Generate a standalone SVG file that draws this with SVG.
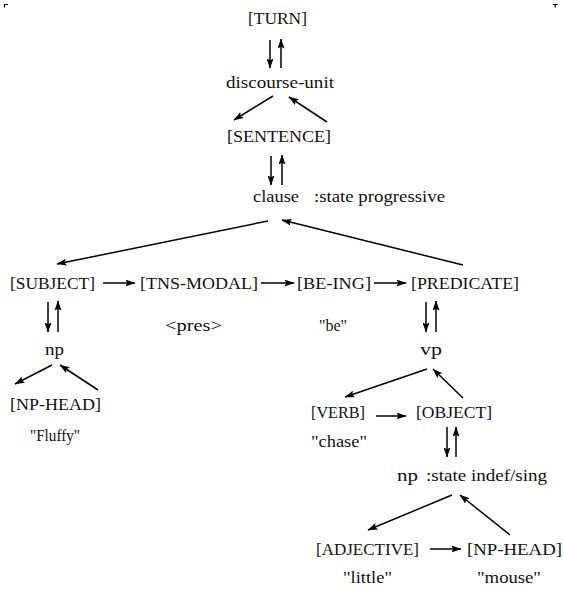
<svg xmlns="http://www.w3.org/2000/svg" width="563" height="590" viewBox="0 0 563 590">
  <defs>
    <marker id="head" viewBox="0 0 10 7" refX="9.5" refY="3.5" markerUnits="userSpaceOnUse" markerWidth="10" markerHeight="7" orient="auto">
      <path d="M0,0 L10,3.5 L0,7 L1.8,3.5 z" fill="#000"/>
    </marker>
  </defs>
  <style>
    text { font-family: "Liberation Serif", "DejaVu Serif", serif; font-size: 17px; fill: #111; }
    .edge { stroke: #000; stroke-width: 1.5; fill: none; marker-end: url(#head); }
    .corner { stroke: #000; stroke-width: 1.2; fill: none; }
  </style>

  <rect width="563" height="590" fill="#fff"/>

  <!-- page corner ticks -->
  <path class="corner" d="M4.5,7.5 V4.5 H8"/>
  <path class="corner" d="M553,4.5 H557.5 M555.3,4.5 V7.5"/>

  <g id="turn"><text x="248" y="24" textLength="59" lengthAdjust="spacingAndGlyphs">[TURN]</text></g>
  <g id="discourse-unit"><text x="226" y="88" textLength="108" lengthAdjust="spacingAndGlyphs">discourse-unit</text></g>
  <g id="sentence"><text x="227" y="142" textLength="104" lengthAdjust="spacingAndGlyphs">[SENTENCE]</text></g>
  <g id="clause">
    <text x="253" y="202" textLength="46" lengthAdjust="spacingAndGlyphs">clause</text>
    <text x="314" y="202" textLength="131" lengthAdjust="spacingAndGlyphs">:state progressive</text>
  </g>

  <g id="subject"><text x="10" y="289" textLength="85" lengthAdjust="spacingAndGlyphs">[SUBJECT]</text></g>
  <g id="tns-modal">
    <text x="140" y="289" textLength="118" lengthAdjust="spacingAndGlyphs">[TNS-MODAL]</text>
    <text x="165" y="331" textLength="57" lengthAdjust="spacingAndGlyphs">&lt;pres&gt;</text>
  </g>
  <g id="be-ing">
    <text x="297" y="289" textLength="74" lengthAdjust="spacingAndGlyphs">[BE-ING]</text>
    <text x="319" y="331" textLength="28" lengthAdjust="spacingAndGlyphs">"be"</text>
  </g>
  <g id="predicate"><text x="411" y="289" textLength="108" lengthAdjust="spacingAndGlyphs">[PREDICATE]</text></g>

  <g id="np-subject"><text x="45" y="355" textLength="19" lengthAdjust="spacingAndGlyphs">np</text></g>
  <g id="np-head-subject">
    <text x="10" y="410" textLength="91" lengthAdjust="spacingAndGlyphs">[NP-HEAD]</text>
    <text x="30" y="441" textLength="50" lengthAdjust="spacingAndGlyphs">"Fluffy"</text>
  </g>

  <g id="vp"><text x="420" y="355" textLength="22" lengthAdjust="spacingAndGlyphs">vp</text></g>
  <g id="verb">
    <text x="311" y="418" textLength="54" lengthAdjust="spacingAndGlyphs">[VERB]</text>
    <text x="311" y="447" textLength="56" lengthAdjust="spacingAndGlyphs">"chase"</text>
  </g>
  <g id="object"><text x="416" y="418" textLength="76" lengthAdjust="spacingAndGlyphs">[OBJECT]</text></g>

  <g id="np-object">
    <text x="397" y="481" textLength="21" lengthAdjust="spacingAndGlyphs">np</text>
    <text x="426" y="481" textLength="121" lengthAdjust="spacingAndGlyphs">:state indef/sing</text>
  </g>
  <g id="adjective">
    <text x="316" y="555" textLength="103" lengthAdjust="spacingAndGlyphs">[ADJECTIVE]</text>
    <text x="343" y="583" textLength="49" lengthAdjust="spacingAndGlyphs">"little"</text>
  </g>
  <g id="np-head-object">
    <text x="467" y="555" textLength="95" lengthAdjust="spacingAndGlyphs">[NP-HEAD]</text>
    <text x="477" y="583" textLength="64" lengthAdjust="spacingAndGlyphs">"mouse"</text>
  </g>

  <g id="connectors">
    <line class="edge" x1="270" y1="40" x2="270" y2="68"/>
    <line class="edge" x1="281" y1="68" x2="281" y2="39"/>
    <line class="edge" x1="273" y1="96" x2="234" y2="120"/>
    <line class="edge" x1="327" y1="122" x2="289" y2="97"/>
    <line class="edge" x1="271" y1="156" x2="271" y2="185"/>
    <line class="edge" x1="282" y1="185" x2="282" y2="155"/>
    <line class="edge" x1="268" y1="221" x2="57" y2="264"/>
    <line class="edge" x1="463" y1="265" x2="282" y2="220"/>
    <line class="edge" x1="103" y1="283" x2="135" y2="283"/>
    <line class="edge" x1="261" y1="283" x2="294" y2="283"/>
    <line class="edge" x1="374" y1="283" x2="406" y2="283"/>
    <line class="edge" x1="48" y1="302" x2="48" y2="332"/>
    <line class="edge" x1="58" y1="332" x2="58" y2="301"/>
    <line class="edge" x1="52" y1="365" x2="15" y2="384"/>
    <line class="edge" x1="98" y1="390" x2="60" y2="365"/>
    <line class="edge" x1="426" y1="302" x2="426" y2="332"/>
    <line class="edge" x1="436" y1="332" x2="436" y2="301"/>
    <line class="edge" x1="427" y1="369" x2="345" y2="397"/>
    <line class="edge" x1="463" y1="398" x2="433" y2="369"/>
    <line class="edge" x1="376" y1="416" x2="406" y2="416"/>
    <line class="edge" x1="447" y1="427" x2="447" y2="457"/>
    <line class="edge" x1="456" y1="457" x2="456" y2="427"/>
    <line class="edge" x1="452" y1="495" x2="368" y2="530"/>
    <line class="edge" x1="510" y1="535" x2="460" y2="495"/>
    <line class="edge" x1="430" y1="549" x2="461" y2="549"/>
  </g>
</svg>
